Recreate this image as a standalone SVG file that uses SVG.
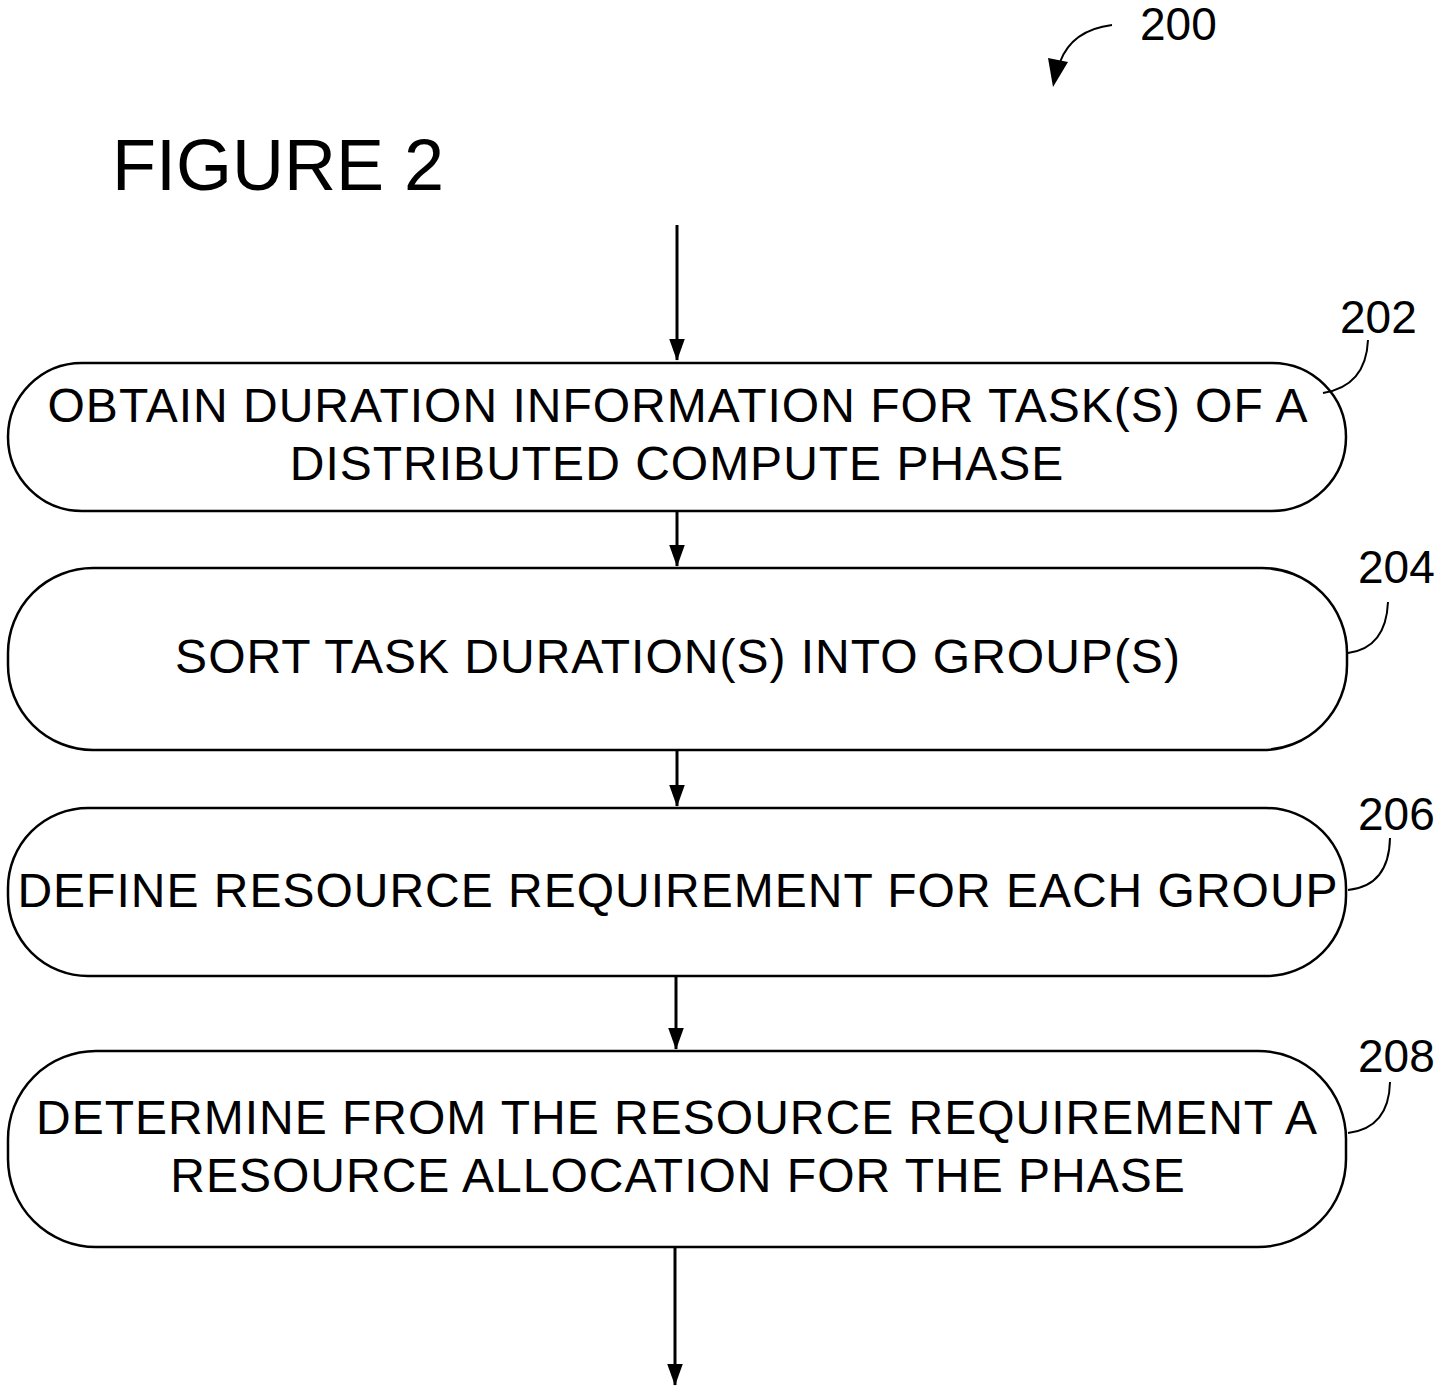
<svg xmlns="http://www.w3.org/2000/svg" width="1442" height="1389" viewBox="0 0 1442 1389">
<style>
.box{fill:#fff;stroke:#000;stroke-width:2.5}
.t{font-family:"Liberation Sans",Arial,sans-serif;font-size:48px;letter-spacing:1px;fill:#000;text-anchor:middle}
.ref{font-family:"Liberation Sans",Arial,sans-serif;font-size:46px;fill:#000}
.lead{fill:none;stroke:#000;stroke-width:2}
.conn{stroke:#000;stroke-width:3;fill:none}
</style>
<defs>
<marker id="ah" markerUnits="userSpaceOnUse" markerWidth="22" markerHeight="30" refX="27" refY="10" orient="auto" viewBox="0 0 28 20">
<path d="M0,0 L28,10 L0,20 Z" fill="#000"/>
</marker>
</defs>
<rect width="1442" height="1389" fill="#fff"/>
<text class="ref" x="1140" y="40">200</text>
<path class="lead" d="M1112,25 Q1072,30 1060,62"/>
<path d="M1048,58 L1068,62 L1053,87 Z" fill="#000"/>
<text x="112" y="190" style="font-family:'Liberation Sans',Arial,sans-serif;font-size:72px;fill:#000">FIGURE 2</text>
<g id="connectors">
<line class="conn" x1="677" y1="225" x2="677" y2="360" marker-end="url(#ah)"/>
<line class="conn" x1="677" y1="511" x2="677" y2="566" marker-end="url(#ah)"/>
<line class="conn" x1="677" y1="750" x2="677" y2="806" marker-end="url(#ah)"/>
<line class="conn" x1="676" y1="976" x2="676" y2="1049" marker-end="url(#ah)"/>
<line class="conn" x1="675" y1="1247" x2="675" y2="1385" marker-end="url(#ah)"/>
</g>
<g id="n202">
<rect class="box" x="8" y="363" width="1338" height="148" rx="74" ry="74"/>
<text class="t" x="678" y="422">OBTAIN DURATION INFORMATION FOR TASK(S) OF A</text>
<text class="t" x="677" y="480">DISTRIBUTED COMPUTE PHASE</text>
<text class="ref" x="1340" y="333">202</text>
<path class="lead" d="M1368,340 Q1366,386 1323,393"/>
</g>
<g id="n204">
<rect class="box" x="8" y="568" width="1339" height="182" rx="85" ry="85"/>
<text class="t" x="678" y="673">SORT TASK DURATION(S) INTO GROUP(S)</text>
<text class="ref" x="1358" y="583">204</text>
<path class="lead" d="M1388,602 Q1386,648 1348,653"/>
</g>
<g id="n206">
<rect class="box" x="8" y="808" width="1338" height="168" rx="80" ry="80"/>
<text class="t" x="678" y="907">DEFINE RESOURCE REQUIREMENT FOR EACH GROUP</text>
<text class="ref" x="1358" y="830">206</text>
<path class="lead" d="M1390,838 Q1389,886 1348,890"/>
</g>
<g id="n208">
<rect class="box" x="8" y="1051" width="1338" height="196" rx="88" ry="88"/>
<text class="t" x="677" y="1134">DETERMINE FROM THE RESOURCE REQUIREMENT A</text>
<text class="t" x="678" y="1192">RESOURCE ALLOCATION FOR THE PHASE</text>
<text class="ref" x="1358" y="1072">208</text>
<path class="lead" d="M1390,1082 Q1389,1128 1348,1133"/>
</g>
</svg>
